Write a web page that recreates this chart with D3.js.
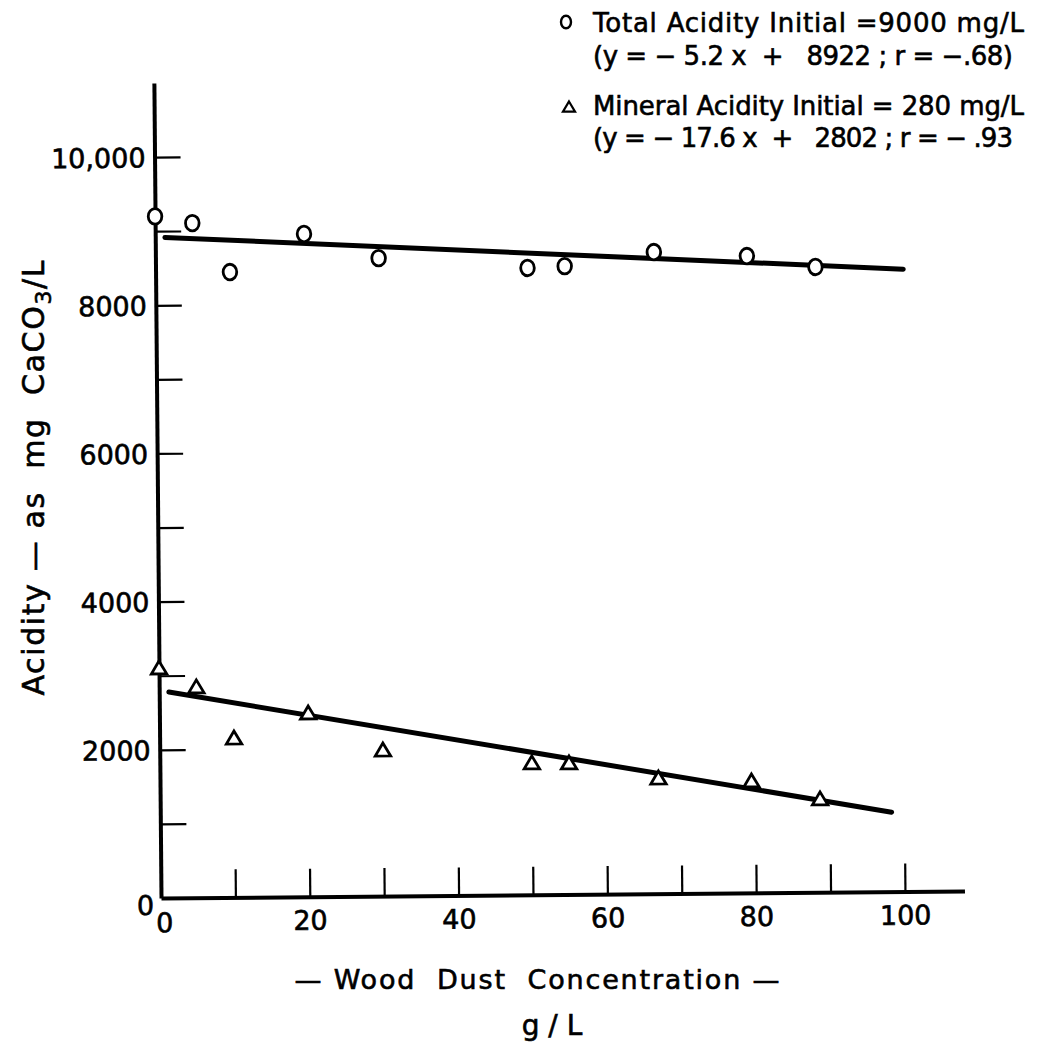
<!DOCTYPE html>
<html>
<head>
<meta charset="utf-8">
<script src="https://cdn.jsdelivr.net/npm/d3@7"></script>
<style>
  html, body { margin: 0; padding: 0; background: #fff; }
  text { font-family: "DejaVu Sans", sans-serif; fill: #000; stroke: #000; stroke-width: 0.6px; }
</style>
</head>
<body>
<div id="chart"></div>
<script>
// wood dust added (g/L) and the acidity left after treatment (mg CaCO3/L)
const woodDust = [0, 5, 10, 20, 30, 50, 55, 67, 79.5, 88.7];
const totalAcidity = [9200, 9105, 8440, 8945, 8610, 8460, 8480, 8660, 8595, 8440];
const mineralAcidity = [3105, 2845, 2150, 2480, 1970, 1780, 1775, 1560, 1510, 1260];

// least squares fits quoted in the key: [slope, intercept], and x span drawn
const totalFit = [-5.2, 8922];
const mineralFit = [-17.6, 2802];
const totalFitSpan = [1.3, 100.5];
const mineralFitSpan = [1.3, 98.3];

const xTickLabels = [0, 20, 40, 60, 80, 100];
const yTickLabels = [0, 2000, 4000, 6000, 8000, 10000];

const legendLines = [
    "Total Acidity Initial =9000 mg/L",
    "(y = \u2212 5.2 x  +   8922 ; r = \u2212.68)",
    "Mineral Acidity Initial = 280 mg/L",
    "(y = \u2212 17.6 x  +   2802 ; r = \u2212 .93"
];

const width = 1044, height = 1044;
const svg = d3.select("#chart").append("svg")
    .attr("width", width).attr("height", height);

const x = d3.scaleLinear().domain([0, 108]).range([161, 964.5]);
const y = d3.scaleLinear().domain([0, 11000]).range([898, 83]);

// the plate was photographed a little skewed, so the plot sits slightly rotated
const plot = svg.append("g")
    .attr("transform", `rotate(-0.5, ${x(0)}, ${y(0)})`);

// y axis: ticks point into the plot, labels on the left
const yAxis = plot.append("g")
    .attr("transform", `translate(${x(0)},0)`)
    .call(d3.axisLeft(y)
        .tickValues(d3.range(0, 10001, 1000))
        .tickSize(-26).tickSizeOuter(0).tickPadding(9)
        .tickFormat(d => yTickLabels.includes(d) ? (d === 10000 ? "10,000" : d) : ""));

const xAxis = plot.append("g")
    .attr("transform", `translate(0,${y(0)})`)
    .call(d3.axisBottom(x)
        .tickValues(d3.range(0, 101, 10))
        .tickSize(-28).tickSizeOuter(0).tickPadding(14)
        .tickFormat(d => xTickLabels.includes(d) ? d : ""));

[yAxis, xAxis].forEach(ax => {
    ax.attr("font-family", null).attr("font-size", null);
    ax.select(".domain").attr("stroke", "#000").attr("stroke-width", 4);
    ax.selectAll(".tick line").attr("stroke", "#000").attr("stroke-width", 2.2);
    ax.selectAll(".tick text").style("font-size", "27px").attr("fill", "#000");
    ax.selectAll(".tick").filter(d => d === 0).select("line").remove();
});
yAxis.selectAll(".tick text").attr("dy", "0.36em");
yAxis.selectAll(".tick").filter(d => d === 0).select("text").attr("dy", "0.6em").attr("x", -7);
xAxis.selectAll(".tick").filter(d => d === 0).select("text").attr("x", 3).attr("dy", "0.75em");

// regression lines
const fitLine = (fit, span) => span.map(v => [v, fit[0] * v + fit[1]]);
const line = d3.line().x(d => x(d[0])).y(d => y(d[1]));

[[totalFit, totalFitSpan], [mineralFit, mineralFitSpan]].forEach(([fit, span]) => {
    plot.append("path")
        .attr("d", line(fitLine(fit, span)))
        .attr("fill", "none")
        .attr("stroke", "#000")
        .attr("stroke-width", 5)
        .attr("stroke-linecap", "round");
});

// open circles: total acidity
plot.selectAll(".total")
    .data(woodDust.map((v, i) => [v, totalAcidity[i]]))
    .enter().append("ellipse")
    .attr("class", "total")
    .attr("cx", d => x(d[0]))
    .attr("cy", d => y(d[1]))
    .attr("rx", 6.8).attr("ry", 7.8)
    .attr("fill", "#fff")
    .attr("stroke", "#000")
    .attr("stroke-width", 2.8);

// open triangles: mineral acidity
const triangle = s => `M0,${-s}L${s * 1.1},${s * 0.85}L${-s * 1.1},${s * 0.85}Z`;
plot.selectAll(".mineral")
    .data(woodDust.map((v, i) => [v, mineralAcidity[i]]))
    .enter().append("path")
    .attr("class", "mineral")
    .attr("d", triangle(7))
    .attr("transform", d => `translate(${x(d[0])},${y(d[1])})`)
    .attr("fill", "#fff")
    .attr("stroke", "#000")
    .attr("stroke-width", 2.8)
    .attr("stroke-linejoin", "miter");

// axis titles
const yTitle = svg.append("text")
    .attr("transform", "translate(44,478) rotate(-90)")
    .attr("text-anchor", "middle")
    .attr("textLength", 435)
    .attr("lengthAdjust", "spacing")
    .style("font-size", "30px")
    .style("white-space", "pre");
yTitle.append("tspan").text("Acidity \u2014 as  mg  CaCO");
yTitle.append("tspan").attr("dy", 7).style("font-size", "22px").text("3");
yTitle.append("tspan").attr("dy", -7).text("/L");

svg.append("text")
    .attr("x", 537).attr("y", 989)
    .attr("text-anchor", "middle")
    .attr("textLength", 485)
    .attr("lengthAdjust", "spacing")
    .style("font-size", "27px")
    .style("white-space", "pre")
    .text("\u2014 Wood  Dust  Concentration \u2014");

svg.append("text")
    .attr("x", 552).attr("y", 1035)
    .attr("text-anchor", "middle")
    .style("font-size", "28px")
    .style("white-space", "pre")
    .text("g / L");

// key
const legendY = [32, 65, 115, 147];
const legendW = [431, 420, 431, 420];
const legend = svg.append("g");
legend.selectAll("text")
    .data(legendLines)
    .enter().append("text")
    .attr("x", 593)
    .attr("y", (d, i) => legendY[i])
    .attr("textLength", (d, i) => legendW[i])
    .attr("lengthAdjust", "spacing")
    .style("font-size", "26px")
    .style("white-space", "pre")
    .text(d => d);

legend.append("ellipse")
    .attr("cx", 566).attr("cy", 22)
    .attr("rx", 5).attr("ry", 6.3)
    .attr("fill", "none").attr("stroke", "#000").attr("stroke-width", 2.4);
legend.append("path")
    .attr("d", triangle(5.5))
    .attr("transform", "translate(569,107)")
    .attr("fill", "none").attr("stroke", "#000").attr("stroke-width", 2.2);
</script>
</body>
</html>
